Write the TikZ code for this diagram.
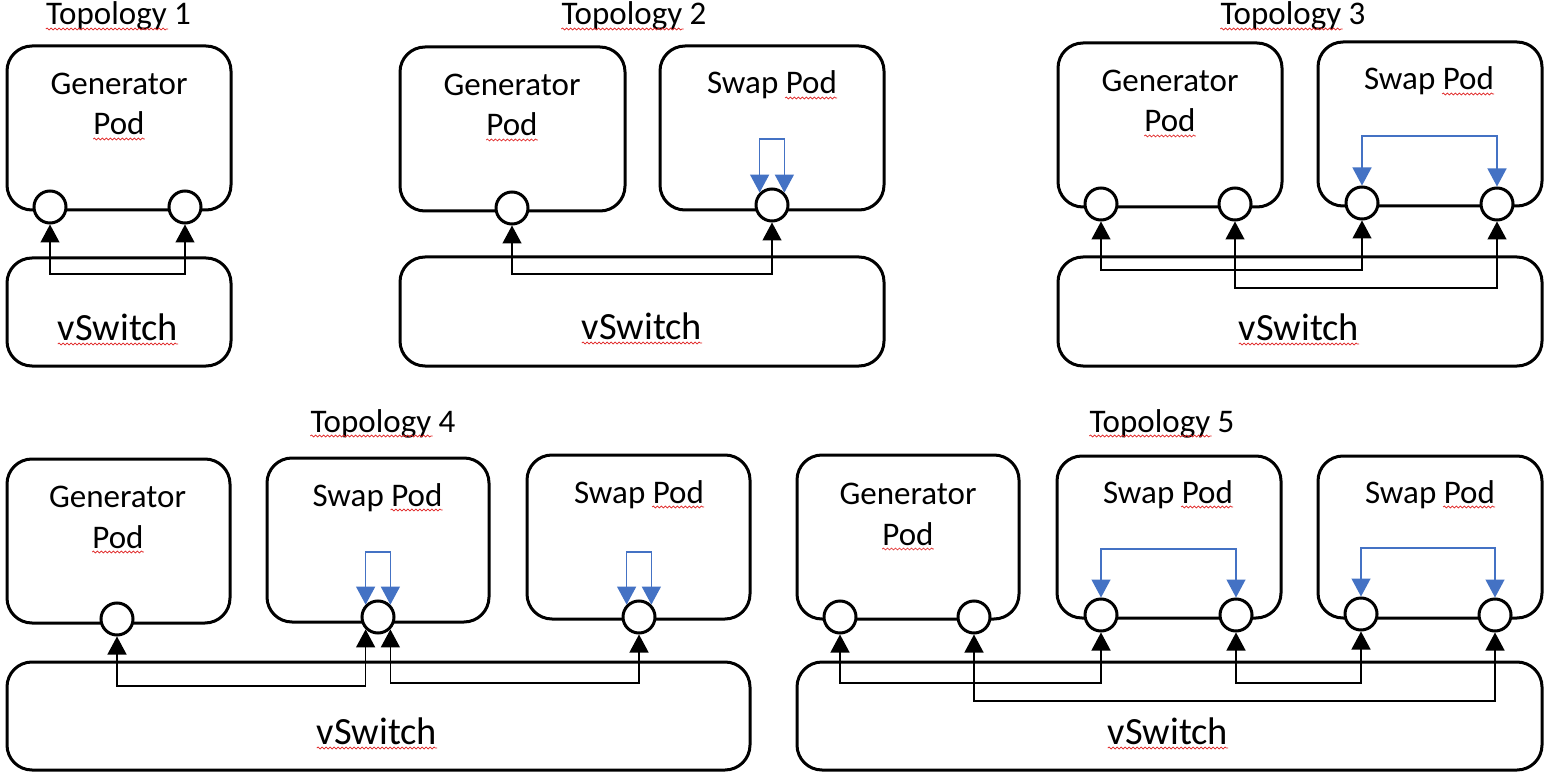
\documentclass[tikz,border=0pt]{standalone}
\usepackage{fontspec}
\setmainfont{Carlito}
\usetikzlibrary{arrows.meta,decorations.pathmorphing,calc}
\definecolor{arrowblue}{HTML}{4472C4}
\definecolor{spellred}{HTML}{E02020}
\tikzset{
  pod/.style={draw, line width=3pt, rounded corners=25pt, inner sep=0pt, outer sep=0pt, anchor=north west},
  port/.style={draw, circle, fill=white, line width=3pt, minimum size=32pt, inner sep=0pt},
  lbl/.style={inner sep=0pt, anchor=base, font=\fontsize{33}{40}\selectfont},
  vlbl/.style={inner sep=0pt, anchor=base, font=\fontsize{38.5}{46}\selectfont},
  tip/.tip={Triangle[width=19pt,length=18pt]},
  conn/.style={line width=1.3pt, tip-tip},
  swaploop/.style={arrowblue, line width=1.3pt, tip-tip},
  spell/.style={spellred, line width=0.7pt, decorate, decoration={snake, amplitude=1pt, segment length=4pt}},
}
\begin{document}
\begin{tikzpicture}[x=1pt,y=-1pt]
\fill[white] (0,0) rectangle (1546,775);
\useasboundingbox (0,0) rectangle (1546,775);

% ---------- boxes ----------
% Topology 1
\node[pod, minimum width=224pt, minimum height=164pt] (gen1) at (7,46) {};
\node[pod, minimum width=224pt, minimum height=108pt] (vsw1) at (7,258) {};
% Topology 2
\node[pod, minimum width=225pt, minimum height=164pt] (gen2) at (400,47) {};
\node[pod, minimum width=224pt, minimum height=164pt] (swp2) at (660,46) {};
\node[pod, minimum width=484pt, minimum height=109pt] (vsw2) at (400,257) {};
% Topology 3
\node[pod, minimum width=224pt, minimum height=164pt] (gen3) at (1058,43) {};
\node[pod, minimum width=224pt, minimum height=164pt] (swp3) at (1318,42) {};
\node[pod, minimum width=484pt, minimum height=109pt] (vsw3) at (1058,257) {};
% Topology 4
\node[pod, minimum width=223pt, minimum height=164pt] (gen4) at (7,459) {};
\node[pod, minimum width=222pt, minimum height=164pt] (swp4a) at (267,458) {};
\node[pod, minimum width=223pt, minimum height=164pt] (swp4b) at (527,455) {};
\node[pod, minimum width=743pt, minimum height=108pt] (vsw4) at (7,662) {};
% Topology 5
\node[pod, minimum width=222pt, minimum height=164pt] (gen5) at (797,455) {};
\node[pod, minimum width=224pt, minimum height=162pt] (swp5a) at (1057,456) {};
\node[pod, minimum width=224pt, minimum height=162pt] (swp5b) at (1318,456) {};
\node[pod, minimum width=745pt, minimum height=108pt] (vsw5) at (797,662) {};

% ---------- ports ----------
\node[port] (c11) at (50,207) {};
\node[port] (c12) at (185,207) {};
\node[port] (c21) at (512,208) {};
\node[port] (c22) at (772,205) {};
\node[port] (c31) at (1101,204) {};
\node[port] (c32) at (1235,204) {};
\node[port] (c33) at (1362,203) {};
\node[port] (c34) at (1497,204) {};
\node[port] (c41) at (117,619) {};
\node[port] (c42) at (378,617) {};
\node[port] (c43) at (639,617) {};
\node[port] (c51) at (840,617) {};
\node[port] (c52) at (974,617) {};
\node[port] (c53) at (1101,615) {};
\node[port] (c54) at (1236,615) {};
\node[port] (c55) at (1361,614) {};
\node[port] (c56) at (1495,615) {};

% ---------- texts ----------
\node[lbl] (t1) at (118.5,25) {Topology 1};
\node[lbl] (g1) at (119,95) {Generator};
\node[lbl] (p1) at (119,135) {Pod};
\node[vlbl] (v1) at (118,340) {vSwitch};

\node[lbl] (t2) at (634,25) {Topology 2};
\node[lbl] (g2) at (512,96) {Generator};
\node[lbl] (p2) at (512,136) {Pod};
\node[lbl] (s2) at (772,94) {Swap Pod};
\node[vlbl] (v2) at (642,339) {vSwitch};

\node[lbl] (t3) at (1293,25) {Topology 3};
\node[lbl] (g3) at (1170,92) {Generator};
\node[lbl] (p3) at (1170,132) {Pod};
\node[lbl] (s3) at (1429,90) {Swap Pod};
\node[vlbl] (v3) at (1299,340) {vSwitch};

\node[lbl] (t4) at (383,432) {Topology 4};
\node[lbl] (g4) at (117.5,507) {Generator};
\node[lbl] (p4) at (118,548) {Pod};
\node[lbl] (s4a) at (377.5,506) {Swap Pod};
\node[lbl] (s4b) at (639,503) {Swap Pod};
\node[vlbl] (v4) at (377,744) {vSwitch};

\node[lbl] (t5) at (1162,432) {Topology 5};
\node[lbl] (g5) at (908,504) {Generator};
\node[lbl] (p5) at (908,545) {Pod};
\node[lbl] (s5a) at (1168,503) {Swap Pod};
\node[lbl] (s5b) at (1430,503) {Swap Pod};
\node[vlbl] (v5) at (1168,744) {vSwitch};

% ---------- spelling squiggles ----------
\foreach \t in {t1,t2,t3,t4,t5}
  \draw[spell] ([yshift=-4pt]\t.base west) -- ([xshift=-23pt,yshift=-4pt]\t.base east);
\foreach \p in {p1,p2,p3,p4,p5,v1,v2,v3,v4,v5}
  \draw[spell] ([yshift=-4pt]\p.base west) -- ([yshift=-4pt]\p.base east);
\foreach \s in {s2,s3,s4a,s4b,s5a,s5b}
  \draw[spell] ([xshift=-52pt,yshift=-4pt]\s.base east) -- ([yshift=-4pt]\s.base east);

% ---------- vSwitch connectors ----------
\draw[conn] (c11.south) -- (c11.south |- 0,274) -| (c12.south);
\draw[conn] (c21.south) -- (c21.south |- 0,274) -| (c22.south);
\draw[conn] (c31.south) -- (c31.south |- 0,270) -| (c33.south);
\draw[conn] (c32.south) -- (c32.south |- 0,288) -| (c34.south);
\draw[conn] (c41.south) -- (c41.south |- 0,686) -| (c42.225);
\draw[conn] (c42.315) -- (c42.315 |- 0,683) -| (c43.south);
\draw[conn] (c51.south) -- (c51.south |- 0,683) -| (c53.south);
\draw[conn] (c54.south) -- (c54.south |- 0,683) -| (c55.south);
\draw[conn] (c52.south) -- (c52.south |- 0,701) -| (c56.south);

% ---------- swap loops ----------
\draw[swaploop] (c22.135) -- (c22.135 |- 0,139) -| (c22.45);
\draw[swaploop] (c33.north) -- (c33.north |- 0,136) -| (c34.north);
\draw[swaploop] (c42.135) -- (c42.135 |- 0,552) -| (c42.45);
\draw[swaploop] (c43.135) -- (c43.135 |- 0,552) -| (c43.45);
\draw[swaploop] (c53.north) -- (c53.north |- 0,549) -| (c54.north);
\draw[swaploop] (c55.north) -- (c55.north |- 0,548) -| (c56.north);
\end{tikzpicture}
\end{document}
